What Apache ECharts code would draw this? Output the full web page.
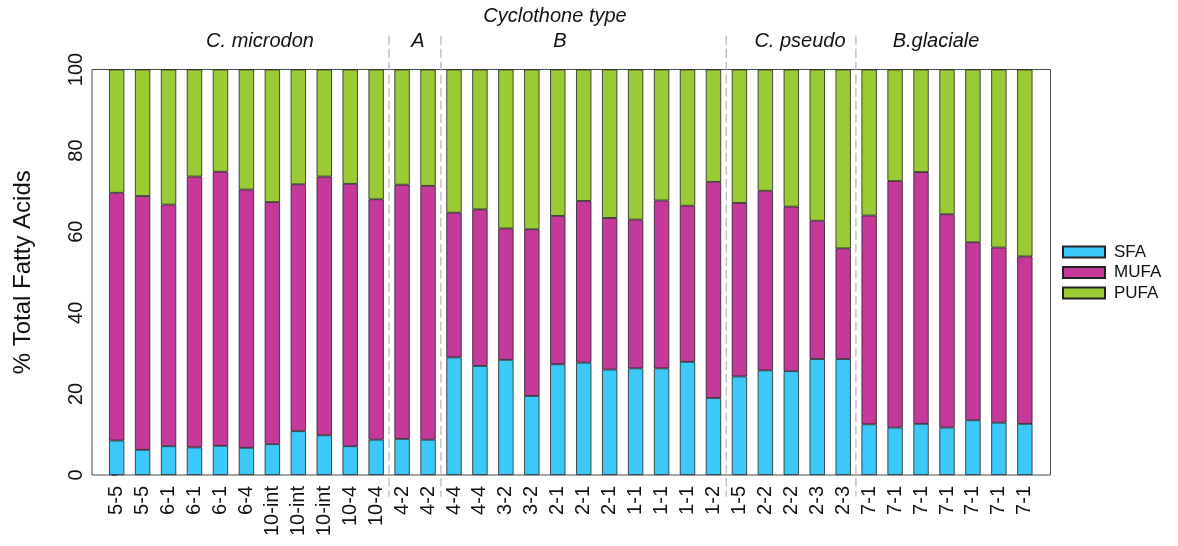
<!DOCTYPE html>
<html>
<head>
<meta charset="utf-8">
<script src="https://cdn.jsdelivr.net/npm/echarts@6/dist/echarts.min.js"></script>
<style>
  html, body { margin: 0; padding: 0; background: #fff; }
  #chart { width: 1178px; height: 546px; }
</style>
</head>
<body>
<div id="chart"></div>
<script>
// sample labels, one per bar
const samples = ['5-5', '5-5', '6-1', '6-1', '6-1', '6-4', '10-int', '10-int', '10-int', '10-4', '10-4',
  '4-2', '4-2',
  '4-4', '4-4', '3-2', '3-2', '2-1', '2-1', '2-1', '1-1', '1-1', '1-1', '1-2',
  '1-5', '2-2', '2-2', '2-3', '2-3',
  '7-1', '7-1', '7-1', '7-1', '7-1', '7-1', '7-1'];

// % of total fatty acids
const sfa = [8.5, 6.2, 7.1, 6.8, 7.2, 6.7, 7.6, 10.8, 9.8, 7.1, 8.7,
  8.9, 8.7,
  29.0, 26.9, 28.4, 19.5, 27.3, 27.7, 26.0, 26.3, 26.3, 27.9, 19.0,
  24.3, 25.8, 25.6, 28.6, 28.6,
  12.5, 11.7, 12.6, 11.7, 13.5, 12.9, 12.6];
const mufa = [61.1, 62.6, 59.6, 66.8, 67.6, 63.7, 59.7, 60.9, 63.8, 64.7, 59.3,
  62.7, 62.6,
  35.7, 38.6, 32.4, 41.1, 36.6, 39.9, 37.4, 36.7, 41.4, 38.5, 53.3,
  42.8, 44.3, 40.6, 34.1, 27.3,
  51.5, 60.8, 62.1, 52.6, 43.9, 43.2, 41.3];
const pufa = [30.4, 31.2, 33.3, 26.4, 25.2, 29.6, 32.7, 28.3, 26.4, 28.2, 32.0,
  28.4, 28.7,
  35.3, 34.5, 39.2, 39.4, 36.1, 32.4, 36.6, 37.0, 32.3, 33.6, 27.7,
  32.9, 29.9, 33.8, 37.3, 44.1,
  36.0, 27.5, 25.3, 35.7, 42.6, 43.9, 46.1];

// group separators, in bar index units
const separators = [10.5, 12.5, 23.5, 28.5];
const groupNames = ['C. microdon', 'A', 'B', 'C. pseudo', 'B.glaciale'];
const groupX = [260, 418, 560, 800, 936];

const font = 'Liberation Sans, Arial, sans-serif';
const axisColor = '#4a4a4a';
const colors = { SFA: '#3cc8f8', MUFA: '#c4399a', PUFA: '#9acb34' };

const chart = echarts.init(document.getElementById('chart'));

function barSeries(name, values) {
  return {
    name: name,
    type: 'bar',
    stack: 'fa',
    xAxisIndex: 0,
    yAxisIndex: 1,
    barWidth: 15.3,
    data: values,
    itemStyle: { color: colors[name], borderColor: '#222', borderWidth: 0.8 },
    emphasis: { disabled: true }
  };
}

const option = {
  animation: false,
  textStyle: { fontFamily: font },
  grid: [
    // frame / y axis
    { left: 92, right: 127.5, top: 69.5, bottom: 71, show: true, borderColor: axisColor, borderWidth: 1 },
    // bars
    { left: 103.7, right: 140.2, top: 69.5, bottom: 71 }
  ],
  xAxis: [
    {
      type: 'category', gridIndex: 1, position: 'bottom', data: samples,
      axisLine: { show: false },
      axisTick: { alignWithLabel: true, length: 5, lineStyle: { color: axisColor } },
      axisLabel: { rotate: 90, margin: 11, fontSize: 20, color: '#111', fontFamily: font, interval: 0 }
    },
    {
      type: 'category', gridIndex: 1, position: 'bottom', data: samples,
      axisLine: { show: false },
      axisTick: { inside: true, length: 3, interval: 0, lineStyle: { color: axisColor } },
      axisLabel: { show: false }
    },
    {
      type: 'category', gridIndex: 1, position: 'top', data: samples,
      axisLine: { show: false },
      axisTick: { inside: true, length: 3, interval: 0, lineStyle: { color: axisColor } },
      axisLabel: { show: false }
    },
    { type: 'value', gridIndex: 0, min: -0.95, max: 36, show: false }
  ],
  yAxis: [
    {
      type: 'value', gridIndex: 0, min: 0, max: 100, interval: 20,
      name: '% Total Fatty Acids', nameLocation: 'middle', nameGap: 57,
      nameTextStyle: { fontSize: 24, color: '#111', fontFamily: font },
      axisLine: { show: true, lineStyle: { color: axisColor } },
      axisTick: { show: true, length: 5, lineStyle: { color: axisColor } },
      axisLabel: { rotate: 90, margin: 6, fontSize: 20, color: '#111', fontFamily: font },
      splitLine: { show: false }
    },
    { type: 'value', gridIndex: 1, min: 0, max: 100, show: false }
  ],
  legend: {
    data: ['SFA', 'MUFA', 'PUFA'],
    orient: 'vertical',
    left: 1057,
    top: 238.5,
    itemWidth: 42,
    itemHeight: 11,
    itemGap: 3.5,
    icon: 'rect',
    selectedMode: false,
    textStyle: { fontSize: 17, color: '#111', fontFamily: font, padding: [0, 0, 0, 4] }
  },
  graphic: [
    {
      type: 'text', x: 555, y: 16,
      style: { text: 'Cyclothone type', font: 'italic 20px ' + font, fill: '#111', align: 'center', verticalAlign: 'middle' }
    }
  ].concat(groupNames.map((g, i) => ({
    type: 'text', x: groupX[i], y: 41,
    style: { text: g, font: 'italic 20px ' + font, fill: '#111', align: 'center', verticalAlign: 'middle' }
  }))),
  series: [
    barSeries('SFA', sfa),
    barSeries('MUFA', mufa),
    barSeries('PUFA', pufa),
    {
      // dashed separators between groups, running past the plot top and bottom
      type: 'custom',
      xAxisIndex: 3,
      yAxisIndex: 0,
      silent: true,
      clip: false,
      data: separators.map(s => [s, 108.3, -5.35]),
      encode: { x: 0, y: [1, 2] },
      renderItem: function (params, api) {
        const p1 = api.coord([api.value(0), api.value(1)]);
        const p2 = api.coord([api.value(0), api.value(2)]);
        return {
          type: 'line',
          shape: { x1: p1[0], y1: p1[1], x2: p2[0], y2: p2[1] },
          style: { stroke: '#b4b4b4', lineWidth: 1.2, lineDash: [9, 4] }
        };
      }
    }
  ]
};

chart.setOption(option);
</script>
</body>
</html>
